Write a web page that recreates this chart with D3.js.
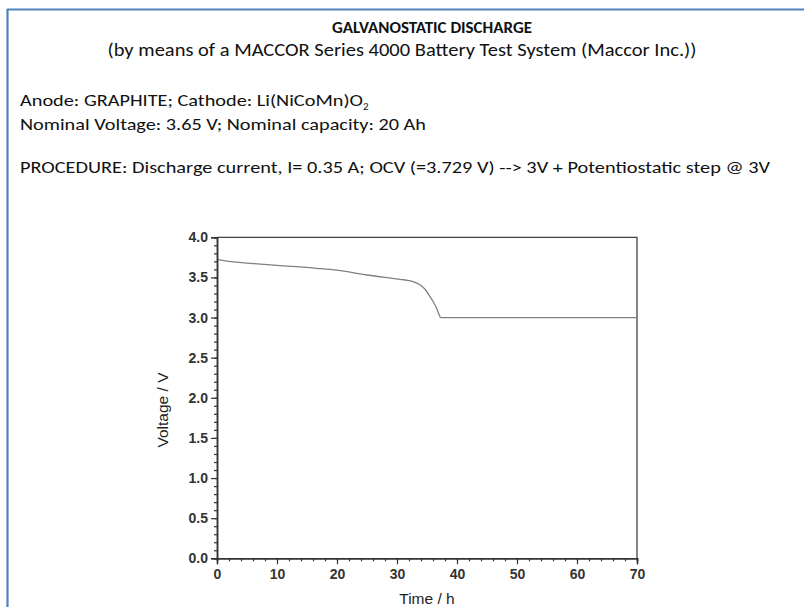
<!DOCTYPE html>
<html><head><meta charset="utf-8">
<script src="https://cdn.jsdelivr.net/npm/d3@7"></script>
<style>body{margin:0;background:#fff}svg{display:block}</style>
</head><body>
<script>
const timeH = [0, 2, 5.5, 10, 16.6, 20, 25, 28, 30.5, 32.7, 33.9, 34.8, 35.5, 36.1, 36.6, 37.0, 37.3, 40, 50, 60, 70];
const voltage = [3.726, 3.70, 3.676, 3.65, 3.614, 3.59, 3.53, 3.50, 3.477, 3.447, 3.405, 3.34, 3.26, 3.19, 3.115, 3.04, 3.0, 3.0, 3.0, 3.0, 3.0];
const xTicks = [0, 10, 20, 30, 40, 50, 60, 70];
const yTicks = [0.0, 0.5, 1.0, 1.5, 2.0, 2.5, 3.0, 3.5, 4.0];
const headerLines = [
  "GALVANOSTATIC DISCHARGE",
  "(by means of a MACCOR Series 4000 Battery Test System (Maccor Inc.))"
];
const infoLines = [
  "Anode: GRAPHITE; Cathode: Li(NiCoMn)O",
  "Nominal Voltage: 3.65 V; Nominal capacity: 20 Ah",
  "PROCEDURE: Discharge current, I= 0.35 A; OCV (=3.729 V) --> 3V + Potentiostatic step @ 3V"
];

const W = 804, H = 607;
const svg = d3.select("body").append("svg").attr("width", W).attr("height", H);
const txtFont = "Carlito, Calibri, Lato, 'Open Sans', sans-serif";
const axFont = "'Liberation Sans', Arial, sans-serif";

// slide frame
svg.append("line").attr("x1", 7.5).attr("x2", 7.5).attr("y1", 9).attr("y2", H).attr("stroke", "#4f81bd").attr("stroke-width", 2.2);
svg.append("line").attr("x1", 7).attr("x2", W).attr("y1", 9.5).attr("y2", 9.5).attr("stroke", "#4f81bd").attr("stroke-width", 2.2);

// header
svg.append("text").attr("x", 432).attr("y", 33).attr("text-anchor", "middle")
  .attr("font-family", txtFont).attr("font-weight", "bold").attr("font-size", 16.5).attr("fill", "#111")
  .attr("textLength", 200).attr("lengthAdjust", "spacingAndGlyphs").text(headerLines[0]);
svg.append("text").attr("x", 402).attr("y", 56).attr("text-anchor", "middle")
  .attr("font-family", txtFont).attr("font-size", 17.5).attr("fill", "#111")
  .attr("textLength", 589).attr("lengthAdjust", "spacingAndGlyphs").text(headerLines[1]);

// anode line with subscript
const an = svg.append("text").attr("x", 20).attr("y", 106)
  .attr("font-family", txtFont).attr("font-size", 17).attr("fill", "#111");
an.append("tspan").attr("textLength", 343).attr("lengthAdjust", "spacingAndGlyphs").text(infoLines[0]);
an.append("tspan").attr("dy", 4).attr("font-size", 11).text("2");

svg.append("text").attr("x", 20).attr("y", 130)
  .attr("font-family", txtFont).attr("font-size", 17).attr("fill", "#111")
  .attr("textLength", 406).attr("lengthAdjust", "spacingAndGlyphs").text(infoLines[1]);
svg.append("text").attr("x", 20).attr("y", 173)
  .attr("font-family", txtFont).attr("font-size", 17).attr("fill", "#111")
  .attr("textLength", 750).attr("lengthAdjust", "spacingAndGlyphs").text(infoLines[2]);

// chart
const x = d3.scaleLinear().domain([0, 70]).range([217, 637]);
const y = d3.scaleLinear().domain([0, 4]).range([558.3, 237.3]);
const axCol = "#333";
const g = svg.append("g");

// frame top & right
g.append("path").attr("d", `M${x(0)},${y(4)}H${x(70)}V${y(0)}`).attr("fill", "none").attr("stroke", "#444").attr("stroke-width", 1.3);

// curve
const line = d3.line().x((d, i) => x(timeH[i])).y(d => y(d)).curve(d3.curveMonotoneX);
g.append("path").attr("d", line(voltage)).attr("fill", "none").attr("stroke", "#808080").attr("stroke-width", 1.3);

// axes
const xa = g.append("g").attr("transform", `translate(0,${y(0)})`)
  .call(d3.axisBottom(x).tickValues(d3.range(0, 71, 2)).tickSize(3).tickFormat(""));
const xb = g.append("g").attr("transform", `translate(0,${y(0)})`)
  .call(d3.axisBottom(x).tickValues(xTicks).tickSize(6).tickPadding(5).tickFormat(d3.format("d")));
const ya = g.append("g").attr("transform", `translate(${x(0)},0)`)
  .call(d3.axisLeft(y).tickValues(d3.range(0, 41).map(d => d / 10)).tickSize(3).tickFormat(""));
const yb = g.append("g").attr("transform", `translate(${x(0)},0)`)
  .call(d3.axisLeft(y).tickValues(yTicks).tickSize(6).tickPadding(3).tickFormat(d3.format(".1f")));
[xa, xb, ya, yb].forEach(a => {
  a.attr("font-family", axFont).attr("font-size", 14);
  a.selectAll("path.domain").attr("stroke", axCol).attr("stroke-width", 1.5);
  a.selectAll(".tick line").attr("stroke", axCol).attr("stroke-width", 1.2);
  a.selectAll("text").attr("font-family", axFont).attr("font-size", 14).attr("font-weight", "bold").attr("fill", "#333");
});

svg.append("text").attr("x", 427).attr("y", 604).attr("text-anchor", "middle")
  .attr("font-family", axFont).attr("font-size", 15.5).attr("fill", "#222").text("Time / h");
svg.append("text").attr("transform", `translate(168,410) rotate(-90)`).attr("text-anchor", "middle")
  .attr("font-family", axFont).attr("font-size", 15.5).attr("fill", "#222").text("Voltage / V");
</script>
</body></html>
